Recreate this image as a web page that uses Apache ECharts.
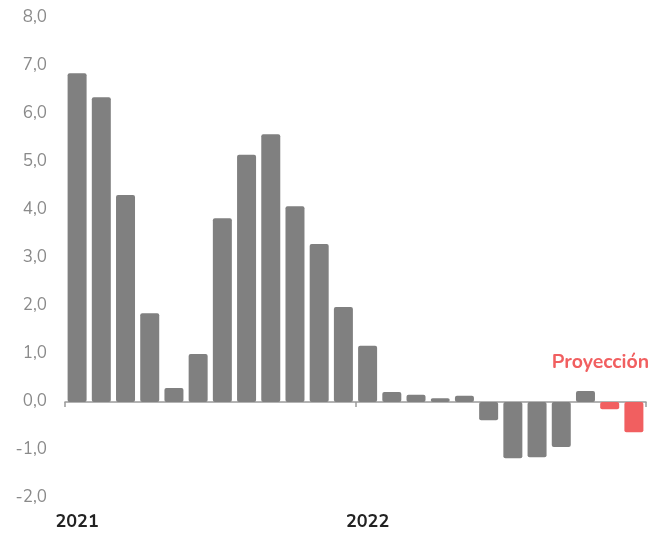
<!DOCTYPE html>
<html>
<head>
<meta charset="utf-8">
<script src="https://cdn.jsdelivr.net/npm/echarts@6/dist/echarts.min.js"></script>
<style>
  html, body { margin: 0; padding: 0; background: #fff; }
  #chart { width: 665px; height: 535px; }
</style>
</head>
<body>
<div id="chart"></div>
<script>
// Monthly values, Jan 2021 – Dec 2022
const months = [
  '2021-01','2021-02','2021-03','2021-04','2021-05','2021-06',
  '2021-07','2021-08','2021-09','2021-10','2021-11','2021-12',
  '2022-01','2022-02','2022-03','2022-04','2022-05','2022-06',
  '2022-07','2022-08','2022-09','2022-10','2022-11','2022-12'
];
const observed = [
  6.85, 6.35, 4.31, 1.85, 0.29, 1.00, 3.83, 5.15, 5.58, 4.08, 3.29, 1.98,
  1.17, 0.21, 0.15, 0.08, 0.13, -0.38, -1.17, -1.15, -0.94, 0.23, null, null
];
const projected = [
  null, null, null, null, null, null, null, null, null, null, null, null,
  null, null, null, null, null, null, null, null, null, null, -0.15, -0.63
];
const yearLabels = { '2021-01': '2021', '2022-01': '2022' };
const projectionLabel = 'Proyección';

const GREY = '#808080';
const RED = '#f15f60';
const AXIS = '#9a9a9a';
const FONT = 'Nunito, "Noto Sans", Lato, sans-serif';

const chart = echarts.init(document.getElementById('chart'));
chart.setOption({
  animation: false,
  grid: { left: 65, right: 19, top: 18, bottom: 37, containLabel: false },
  xAxis: [
    {
      // month categories carrying the bars and year labels
      type: 'category',
      data: months,
      axisLine: { show: false, onZero: false },
      axisTick: { show: false },
      axisLabel: {
        interval: 0,
        formatter: (v) => yearLabels[v] || '',
        color: '#222',
        fontFamily: FONT,
        fontWeight: 'bold',
        fontSize: 18,
        margin: 16
      },
      splitLine: { show: false }
    },
    {
      // baseline at zero with ticks at the year boundaries
      type: 'value',
      min: 0,
      max: months.length,
      interval: 12,
      position: 'bottom',
      axisLine: { onZero: true, lineStyle: { color: AXIS, width: 1.5 } },
      axisTick: { show: true, length: 5, lineStyle: { color: AXIS, width: 1.5 } },
      axisLabel: { show: false },
      splitLine: { show: false }
    }
  ],
  yAxis: {
    type: 'value',
    min: -2,
    max: 8,
    interval: 1,
    axisLine: { show: false },
    axisTick: { show: false },
    splitLine: { show: false },
    axisLabel: {
      color: '#8a8a8a',
      fontFamily: FONT,
      fontSize: 17,
      margin: 18,
      formatter: (v) => v.toFixed(1).replace('.', ',')
    }
  },
  series: [
    {
      type: 'bar',
      xAxisIndex: 0,
      data: observed,
      barWidth: 19,
      barGap: '-100%',
      itemStyle: { color: GREY, borderRadius: 2 }
    },
    {
      type: 'bar',
      xAxisIndex: 0,
      data: projected,
      barWidth: 19,
      barGap: '-100%',
      itemStyle: { color: RED, borderRadius: 2 },
      markPoint: {
        symbol: 'rect',
        symbolSize: 0,
        data: [{ coord: ['2022-11', 0.8], value: projectionLabel }],
        label: {
          show: true,
          formatter: projectionLabel,
          color: RED,
          fontFamily: FONT,
          fontWeight: 'bold',
          fontSize: 19.5,
          align: 'left',
          offset: [-58, 0]
        }
      }
    }
  ]
});
</script>
</body>
</html>
